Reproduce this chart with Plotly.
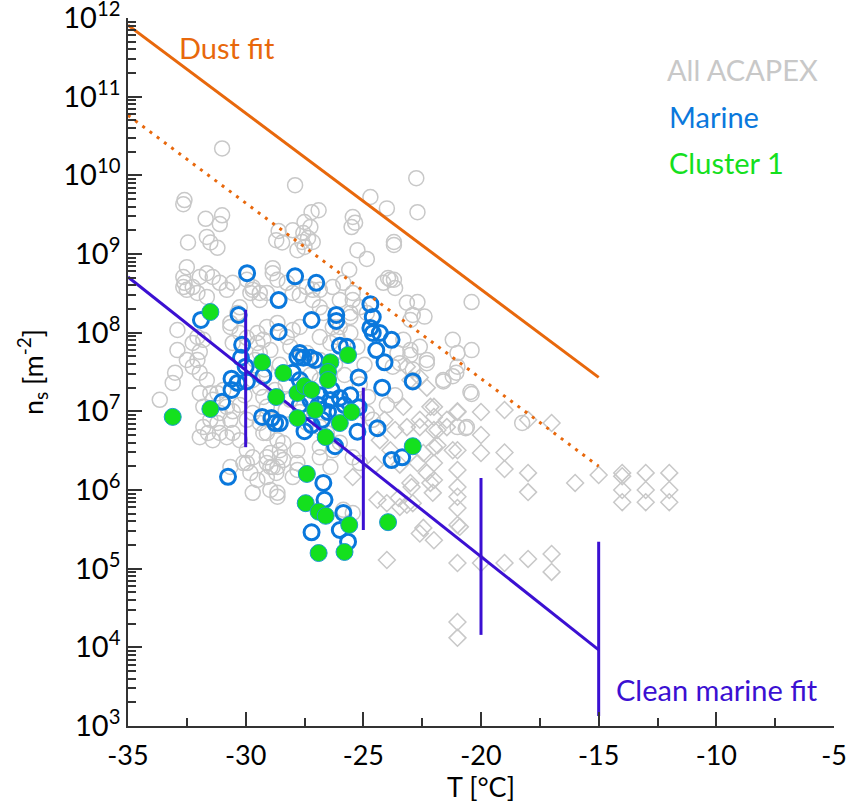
import plotly.graph_objects as go

# ---------------- data ----------------
# All ACAPEX (grey open circles)
grey_T = [-31.0, -27.9, -22.75, -24.7, -24.0, -22.7, -32.6, -32.65, -31.7, -31.0, -31.1, -32.45, -31.65, -31.5, -31.2,
          -28.6, -28.7, -28.45, -28.0, -27.8, -27.5, -27.25, -27.55, -27.35, -27.6, -27.5, -27.15, -27.2, -26.9, -25.45,
          -25.35, -25.5, -23.7, -23.7, -25.25, -24.85, -25.6, -23.95, -23.7, -26.3, -28.85, -32.5, -32.65, -32.6, -32.5,
          -31.95, -31.65, -31.4, -31.1, -30.8, -30.55, -29.7, -29.4, -27.15, -26.85, -25.85, -27.15, -25.45, -25.55, -26.0,
          -26.85, -26.4, -25.55, -25.25, -27.4, -26.85, -32.9, -32.05, -31.8, -32.9, -32.5, -32.25, -31.95, -31.65, -33.0,
          -33.1, -33.65, -31.95, -31.5, -31.8, -32.25, -31.95, -32.05, -31.2, -30.95, -31.8, -31.6, -31.1, -30.8, -31.95,
          -31.4, -30.55, -30.25, -29.95, -29.7, -29.95, -29.1, -28.85, -28.7, -27.8, -28.0, -26.85, -26.4, -30.65, -30.1,
          -29.8, -29.5, -28.95, -28.4, -28.55, -28.95, -28.65, -29.7, -29.1, -28.65, -28.4, -28.95, -28.55, -29.1, -28.65,
          -29.1, -28.65, -27.8, -27.8, -25.45, -21.0, -20.6, -30.65, -30.35, -30.25, -30.55, -29.4, -29.25, -29.5, -29.1,
          -28.65, -28.25, -28.1, -28.0, -27.7, -30.25, -29.95, -29.5, -30.65, -29.95, -29.7, -29.8, -29.4, -29.1, -28.85,
          -28.65, -28.25, -27.4, -27.7, -28.0, -26.85, -26.7, -26.3, -26.1, -26.0, -25.45, -25.15, -24.85, -25.55, -23.15,
          -22.9, -23.0, -22.7, -22.4, -23.65, -24.15, -23.85, -20.4, -21.2, -21.0, -20.4, -21.0, -21.6, -22.6, -22.3,
          -22.9, -22.9, -23.0, -20.45, -23.75, -23.45, -23.55, -23.3, -23.0, -24.8, -24.85, -24.6, -22.3, -21.6, -21.2,
          -21.05, -20.4, -18.25, -20.65, -29.7, -29.4, -29.25, -29.1, -29.7, -29.95, -29.4, -28.95, -29.25, -31.1, -30.65,
          -31.2, -31.5, -30.55, -30.8, -31.4, -27.4, -26.85, -26.55, -26.0, -25.45, -25.15, -26.85, -26.3, -32.65, -32.25,
          -32.05, -31.65, -25.85, -28.95, -28.55, -29.2, -28.3, -28.75, -28.1, -27.7, -28.3, -29.6, -30.05, -30.25, -27.25,
          -26.85, -26.2, -25.8, -25.15, -24.95, -23.65, -24.0]
grey_ns = [2.2e10, 7.5e9, 9.2e9, 5.3e9, 3.8e9, 3.4e9, 4.85e9, 4.3e9, 2.8e9, 3.1e9, 2.4e9, 1.4e9, 1.65e9, 1.4e9, 1.2e9,
           1.96e9, 1.5e9, 1.4e9, 2.0e9, 1.12e9, 2.55e9, 2.2e9, 1.85e9, 1.6e9, 1.42e9, 1.23e9, 1.42e9, 3.4e9, 3.6e9, 2.95e9,
           2.5e9, 2.2e9, 1.42e9, 1.3e9, 1.12e9, 8.65e8, 6.3e8, 4.95e8, 4.7e8, 3.8e8, 6.6e8, 6.8e8, 5.1e8, 4.3e8, 3.5e8,
           5.1e8, 5.7e8, 5.1e8, 4.3e8, 3.5e8, 4.3e8, 3.5e8, 3.2e8, 3.5e8, 3.5e8, 4.3e8, 2.6e8, 2.6e8, 1.78e8, 1.18e8,
           8.8e7, 7.4e7, 9.9e7, 6.6e7, 5.5e7, 4.5e7, 1.08e8, 8.8e7, 8.1e7, 6.0e7, 4.5e7, 3.7e7, 3.1e7, 2.5e7, 3.1e7,
           2.3e7, 1.4e7, 1.7e7, 1.7e7, 1.14e7, 7.4e7, 5.7e7, 4.5e7, 1.7e7, 1.87e7, 6.3e6, 5.3e6, 5.3e6, 4.7e6, 4.7e6,
           4.3e6, 5.3e6, 4.3e6, 3.2e6, 2.6e6, 2.2e6, 2.6e6, 1.96e6, 1.65e6, 1.8e6, 1.46e6, 2.6e6, 1.96e6, 1.96e6, 2.2e6,
           1.65e6, 1.34e6, 1.96e6, 2.4e6, 3.2e6, 1.0e6, 9.2e5, 9.2e5, 5.3e6, 4.3e6, 3.96e6, 2.95e6, 2.6e6, 2.2e6, 1.96e6,
           1.46e6, 8.2e5, 3.2e6, 2.2e6, 5.1e5, 6.3e6, 6.3e6, 1.33e8, 1.78e8, 2.1e8, 7.4e7, 5.5e7, 8.1e7, 9.9e7, 1.18e8,
           1.33e8, 8.8e7, 6.6e7, 1.08e8, 1.18e8, 9.9e7, 8.6e7, 7.4e7, 1.18e8, 4.7e8, 3.8e8, 3.2e8, 2.6e8, 3.2e8, 5.7e8,
           4.7e8, 4.3e8, 3.8e8, 3.0e8, 3.2e8, 2.1e8, 1.78e8, 1.18e8, 8.8e7, 2.6e8, 3.2e8, 2.1e8, 1.78e8, 1.58e8, 2.4e8,
           1.68e8, 1.45e8, 2.45e8, 1.6e8, 3.7e8, 4.3e8, 4.7e8, 2.45e8, 8.1e7, 5.5e7, 6.0e7, 3.7e7, 2.5e7, 6.6e7, 4.5e7,
           3.4e7, 2.5e7, 5.2e7, 1.76e7, 3.7e7, 4.1e7, 5.5e7, 8.1e7, 6.0e7, 1.52e7, 9.5e6, 7.8e6, 4.1e7, 2.4e7, 2.8e7,
           3.1e7, 1.66e7, 7.1e6, 6.1e6, 2.5e7, 2.0e7, 1.52e7, 1.14e7, 9.5e6, 7.8e6, 7.1e6, 7.8e6, 5.3e6, 9.5e6, 7.8e6,
           7.1e6, 7.8e6, 1.0e7, 1.14e7, 1.4e7, 7.1e6, 6.3e6, 5.3e6, 4.0e6, 2.6e6, 2.2e6, 3.5e6, 3.2e6, 3.8e8, 3.8e8,
           3.2e8, 2.85e8, 5.6e5, 6.0e7, 3.9e7, 3.4e7, 2.2e7, 1.87e7, 1.4e7, 9.8e6, 1.04e7, 4.5e7, 1.6e7, 1.2e7, 2.9e7,
           2.5e7, 3.9e7, 2.9e7, 2.2e7, 3.9e7, 1.6e7, 1.2e7]

# All ACAPEX (grey open diamonds)
diam_T = [-22, -22, -22, -22, -22, -22, -22,
          -21, -21, -21, -21, -21, -21, -21, -21, -21, -21,
          -20, -20, -20, -20,
          -19, -19, -19, -19,
          -18, -18, -18, -18,
          -17, -17, -17,
          -16, -15,
          -14, -14, -14, -14,
          -13, -13, -13,
          -12, -12, -12,
          -23.15, -22.6, -22.3, -23.0, -22.15, -21.45, -21.0, -22.6, -23.3, -22.6, -23.15, -21.85, -22.45, -22.7,
          -22.3, -22.15, -23.0, -21.85, -21.2, -22.05, -21.45, -25.45, -24.4, -24.0, -23.15, -22.45, -20.9, -24.0,
          -23.5, -23.45, -22.6, -22.95, -22.9, -24.1, -23.65, -23.85, -23.45, -24.3, -24.5]
diam_ns = [1.14e7, 8.5e6, 5.8e6, 3.5e6, 2.2e6, 1.34e6, 2.3e5,
           9.8e6, 3.2e6, 1.8e6, 1.09e6, 8.2e5, 5.9e5, 3.6e5, 1.18e5, 2.1e4, 1.32e4,
           9.8e6, 5.0e6, 2.95e6, 1.18e5,
           1.04e7, 3.0e6, 1.85e6, 1.18e5,
           7.8e6, 1.65e6, 9.4e5, 1.33e5,
           7.1e6, 1.54e5, 9.1e4,
           1.23e6, 1.55e6,
           1.65e6, 1.5e6, 1.0e6, 7.0e5,
           1.65e6, 1.0e6, 7.0e5,
           1.65e6, 1.0e6, 7.0e5,
           3.7e7, 2.7e7, 2.0e7, 2.5e7, 1.14e7, 7.8e6, 1.0e7, 7.8e6, 1.14e7, 6.3e6, 6.3e6, 5.8e6, 2.95e6, 2.2e6,
           1.65e6, 1.23e6, 1.23e6, 3.7e6, 3.2e6, 9.2e5, 6.3e6, 1.46e6, 7.5e5, 6.8e5, 6.5e5, 3.3e5, 3.4e5, 1.29e5,
           7.9e5, 6.1e5, 2.8e5, 1.09e6, 6.8e5, 7.8e6, 5.8e6, 3.2e6, 2.1e6, 4.3e6, 2.1e6]

# Marine (blue open circles)
marine_T = [-29.94, -27.9, -27.0, -28.6, -24.7, -24.6, -24.7, -24.6, -24.3, -23.8, -24.45, -24.1, -27.2, -26.15,
            -26.15, -28.6, -30.3, -31.9, -30.15, -30.2, -30.0, -30.6, -30.35, -30.6, -29.95, -31.0, -29.25, -27.8,
            -27.55, -27.05, -26.0, -25.7, -25.2, -24.2, -22.9, -28.0, -29.3, -28.9, -28.55, -27.5, -26.2, -25.25,
            -24.4, -23.8, -23.35, -30.75, -26.7, -26.65, -25.85, -26.0, -27.2, -25.65, -25.2, -28.75, -27.25,
            -26.85, -26.4, -26.0, -26.9, -25.8, -26.5, -26.1, -26.75, -27.25, -25.55, -27.7, -26.35, -27.2, -27.7, -27.7]
marine_ns = [5.7e8, 5.2e8, 4.3e8, 2.6e8, 2.3e8, 1.58e8, 1.15e8, 9.9e7, 9.9e7, 8.1e7, 6.0e7, 4.2e7, 1.45e8, 1.68e8,
             1.41e8, 1.02e8, 1.68e8, 1.45e8, 7.0e7, 4.8e7, 3.7e7, 2.6e7, 2.3e7, 1.87e7, 2.4e7, 1.32e7, 2.8e7, 4.9e7,
             4.8e7, 4.5e7, 6.8e7, 6.6e7, 2.7e7, 2.0e7, 2.4e7, 3.1e7, 8.5e6, 8.2e6, 7.1e6, 5.6e6, 3.6e6, 5.5e6,
             6.1e6, 2.4e6, 2.6e6, 1.47e6, 1.23e6, 7.5e5, 5.1e5, 3.1e5, 2.9e5, 2.2e5, 1.13e7, 7.1e6, 4.8e7,
             1.6e7, 1.39e7, 1.48e7, 1.2e7, 1.2e7, 9.8e6, 9.8e6, 7.8e6, 1.39e7, 1.6e7, 1.2e7, 1.87e7, 6.7e6, 2.5e7, 5.5e7]

# Cluster 1 (green filled circles)
cluster_T = [-31.5, -33.1, -31.5, -29.3, -28.4, -28.7, -27.8, -27.5, -27.2, -26.4, -26.5, -26.5, -25.65, -27.05,
             -27.8, -26.0, -25.5, -26.6, -22.9, -27.4, -27.45, -26.9, -26.6, -25.6, -23.95, -26.9, -25.8]
cluster_ns = [1.83e8, 8.5e6, 1.07e7, 4.2e7, 3.07e7, 1.52e7, 1.71e7, 2.1e7, 1.87e7, 4.2e7, 3.16e7, 2.5e7, 5.2e7, 1.04e7,
              8.2e6, 7.1e6, 9.8e6, 4.7e6, 3.6e6, 1.6e6, 6.8e5, 5.3e5, 4.7e5, 3.6e5, 3.9e5, 1.58e5, 1.63e5]

# fits
fit_T = [-35, -15]
dust_fit_ns = [8.1e11, 2.7e7]
dust_lower_ns = [5.8e10, 2.0e6]
marine_fit_ns = [5.1e8, 9.3e3]
err_T = [-30, -25, -20, -15]
err_hi = [1.95e8, 2.0e7, 1.42e6, 2.2e5]
err_lo = [3.5e6, 3.1e5, 1.44e4, 1.34e3]

# axis ticks
x_ticks = [-35, -30, -25, -20, -15, -10, -5]
x_minor = [-32.5, -27.5, -22.5, -17.5, -12.5, -7.5]
y_exps = [3, 4, 5, 6, 7, 8, 9, 10, 11, 12]

# ---------------- styles ----------------
ORANGE = "#E8680C"
PURPLE = "#3B10D2"
BLUE = "#0A78DC"
GREEN = "#14E01E"
GREY = "#C8C8C8"
FONT = "Lato"

fig = go.Figure()

fig.add_trace(go.Scatter(x=grey_T, y=grey_ns, mode="markers",
                         marker=dict(symbol="circle-open", size=15, color=GREY, line=dict(width=1.5, color=GREY))))
fig.add_trace(go.Scatter(x=diam_T, y=diam_ns, mode="markers",
                         marker=dict(symbol="diamond-open", size=13, color=GREY, line=dict(width=1.5, color=GREY))))
fig.add_trace(go.Scatter(x=marine_T, y=marine_ns, mode="markers",
                         marker=dict(symbol="circle-open", size=15, color=BLUE, line=dict(width=3, color=BLUE))))

fig.add_trace(go.Scatter(x=fit_T, y=dust_fit_ns, mode="lines", line=dict(color=ORANGE, width=3)))
fig.add_trace(go.Scatter(x=fit_T, y=dust_lower_ns, mode="lines", line=dict(color=ORANGE, width=3, dash="3px,6px")))
fig.add_trace(go.Scatter(x=fit_T, y=marine_fit_ns, mode="lines", line=dict(color=PURPLE, width=3)))

ex, ey = [], []
for t, hi, lo in zip(err_T, err_hi, err_lo):
    ex += [t, t, None]
    ey += [hi, lo, None]
fig.add_trace(go.Scatter(x=ex, y=ey, mode="lines", line=dict(color=PURPLE, width=3)))

fig.add_trace(go.Scatter(x=cluster_T, y=cluster_ns, mode="markers",
                         marker=dict(symbol="circle", size=17, color=GREEN, line=dict(width=1, color="#1C9AD0"))))

y_tickvals = [10.0 ** e for e in y_exps]
y_ticktext = ["10<sup>%d</sup>" % e for e in y_exps]
y_minor = [m * 10.0 ** e for e in y_exps[:-1] for m in range(2, 10)]

fig.update_layout(
    width=851, height=803,
    margin=dict(l=128, r=17, t=18, b=77),
    paper_bgcolor="white", plot_bgcolor="white",
    showlegend=False,
    font=dict(family=FONT, size=26, color="black"),
    xaxis=dict(range=[-35, -5], tickmode="array", tickvals=x_ticks, ticktext=[str(v) for v in x_ticks],
               ticks="inside", ticklen=14, tickwidth=1.5, tickcolor="#333333",
               showline=True, linecolor="#333333", linewidth=1.5, showgrid=False, zeroline=False,
               minor=dict(tickmode="array", tickvals=x_minor, ticks="inside", ticklen=8, tickwidth=1.5,
                          tickcolor="#333333", showgrid=False),
               tickfont=dict(family=FONT, size=27), ticklabeloverflow="allow", ticklabelstandoff=5,
               automargin=False,
               title=dict(text="T [°C]", font=dict(family=FONT, size=27), standoff=0)),
    yaxis=dict(type="log", range=[3, 12], tickmode="array", tickvals=y_tickvals, ticktext=y_ticktext,
               ticks="inside", ticklen=14, tickwidth=1.5, tickcolor="#333333",
               showline=True, linecolor="#333333", linewidth=1.5, showgrid=False, zeroline=False,
               minor=dict(tickmode="array", tickvals=y_minor, ticks="inside", ticklen=8, tickwidth=1.5,
                          tickcolor="#333333", showgrid=False),
               tickfont=dict(family=FONT, size=29), ticklabeloverflow="allow", automargin=False,
               title=dict(text="n<sub>s</sub> [m<sup>-2</sup>]", font=dict(family=FONT, size=27), standoff=12)),
)

def label(text, px, py, color):
    fig.add_annotation(text=text, xref="paper", yref="paper",
                       x=(px - 128) / 706.0, y=(726 - py) / 708.0,
                       xanchor="left", yanchor="middle", showarrow=False,
                       font=dict(family=FONT, size=29, color=color))

label("Dust fit", 177, 47, ORANGE)
label("All ACAPEX", 665, 69, GREY)
label("Marine", 667, 116, BLUE)
label("Cluster 1", 667, 162, GREEN)
label("Clean marine fit", 614, 689, PURPLE)

fig.write_html("out.html", config={"displayModeBar": False},
               post_script="document.body.style.margin='0px';")
